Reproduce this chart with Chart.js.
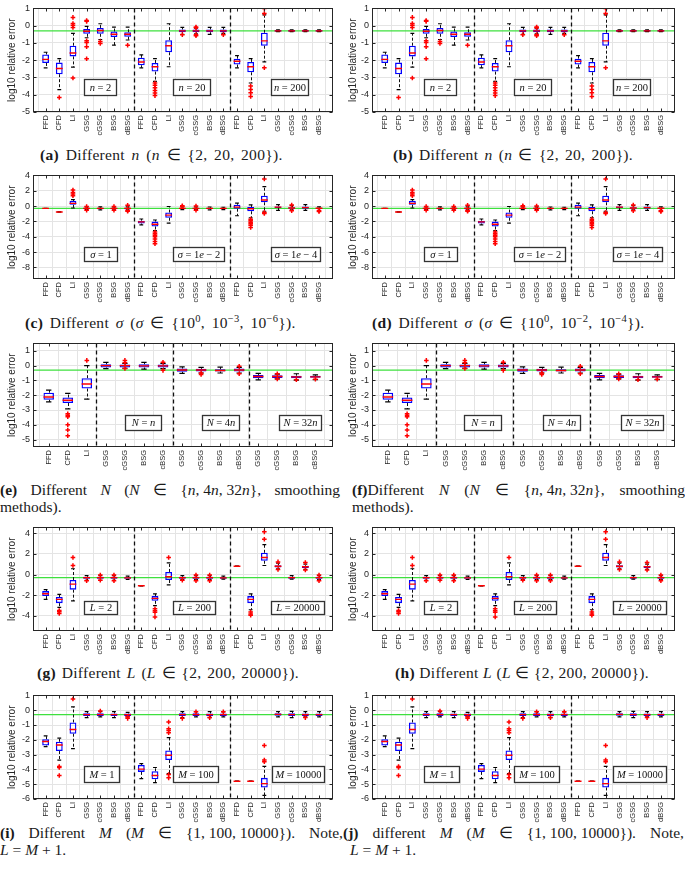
<!DOCTYPE html>
<html>
<head>
<meta charset="utf-8">
<script src="https://cdn.jsdelivr.net/npm/chart.js@4.4.1/dist/chart.umd.min.js"></script>
<style>
  body { margin: 0; background: #fff; }
  #page { position: relative; width: 685px; height: 869px; overflow: hidden; background: #fff; }
  canvas { position: absolute; }
  .cap { position: absolute; font-size: 15.5px; color: #1a1a1a; white-space: nowrap; line-height: 17px; }
  .cap b { font-weight: bold; }
  .row { display: flex; justify-content: space-between; }
  sup { font-size: 0.68em; line-height: 0; }
</style>
</head>
<body>
<div id="page">
  <!-- captions; data-w is the width the line takes in the figure -->
  <div class="cap fit" data-w="247" style="left:40px;top:146px"><b>(a)</b> Different <i>n</i> (<i>n</i> ∈ {2, 20, 200}).</div>
  <div class="cap fit" data-w="240" style="left:393px;top:146px"><b>(b)</b> Different <i>n</i> (<i>n</i> ∈ {2, 20, 200}).</div>
  <div class="cap fit" data-w="307" style="left:25px;top:314px"><b>(c)</b> Different <i>σ</i> (<i>σ</i> ∈ {10<sup>0</sup>, 10<sup>−3</sup>, 10<sup>−6</sup>}).</div>
  <div class="cap fit" data-w="293" style="left:372px;top:314px"><b>(d)</b> Different <i>σ</i> (<i>σ</i> ∈ {10<sup>0</sup>, 10<sup>−2</sup>, 10<sup>−4</sup>}).</div>
  <div class="cap row" style="left:0px;top:481px;width:340px"><span><b>(e)</b></span><span>Different</span><span><i>N</i></span><span>(<i>N</i></span><span>∈</span><span>{<i>n</i>, 4<i>n</i>, 32<i>n</i>},</span><span>smoothing</span></div>
  <div class="cap" style="left:0px;top:498px">methods).</div>
  <div class="cap row" style="left:352px;top:481px;width:333px"><span><b>(f)</b>Different</span><span><i>N</i></span><span>(<i>N</i></span><span>∈</span><span>{<i>n</i>, 4<i>n</i>, 32<i>n</i>},</span><span>smoothing</span></div>
  <div class="cap" style="left:352px;top:498px">methods).</div>
  <div class="cap fit" data-w="262" style="left:37px;top:664px"><b>(g)</b> Different <i>L</i> (<i>L</i> ∈ {2, 200, 20000}).</div>
  <div class="cap fit" data-w="254" style="left:395px;top:664px"><b>(h)</b> Different <i>L</i> (<i>L</i> ∈ {2, 200, 20000}).</div>
  <div class="cap row" style="left:0px;top:824px;width:343px"><span><b>(i)</b></span><span>Different</span><span><i>M</i></span><span>(<i>M</i></span><span>∈</span><span>{1, 100, 10000}).</span><span>Note,</span></div>
  <div class="cap" style="left:0px;top:841px"><i>L</i> = <i>M</i> + 1.</div>
  <div class="cap row" style="left:343px;top:824px;width:341px"><span><b>(j)</b></span><span>different</span><span><i>M</i></span><span>(<i>M</i></span><span>∈</span><span>{1, 100, 10000}).</span><span>Note,</span></div>
  <div class="cap" style="left:350px;top:841px"><i>L</i> = <i>M</i> + 1.</div>
</div>
<script>
// categories
const methods21 = ['FFD', 'CFD', 'LI', 'GSG', 'cGSG', 'BSG', 'dBSG',
                   'FFD', 'CFD', 'LI', 'GSG', 'cGSG', 'BSG', 'dBSG',
                   'FFD', 'CFD', 'LI', 'GSG', 'cGSG', 'BSG', 'dBSG'];
const methods15 = ['FFD', 'CFD', 'LI', 'GSG', 'cGSG', 'BSG', 'cBSG',
                   'GSG', 'cGSG', 'BSG', 'cBSG', 'GSG', 'cGSG', 'BSG', 'cBSG'];

// y tick labels
const nTicks = [-5, -4, -3, -2, -1, 0, 1];
const sTicks = [-8, -6, -4, -2, 0, 2, 4];
const NTicks = [-5, -4, -3, -2, -1, 0, 1];
const LTicks = [-4, -2, 0, 2, 4];
const MTicks = [-6, -5, -4, -3, -2, -1, 0, 1];

// reference line (log10 0.5)
const refValue = -0.3;

// panel n (a, b)
const nLow  = [-2.44, -3.70, -2.40, -0.70, -0.80, -1.13, -0.83, -2.44, -3.23, -2.38, -0.50, -0.48, -0.50, -0.45, -2.44, -3.32, -2.10, -0.34, -0.34, -0.34, -0.34];
const nQ1   = [-2.16, -2.81, -1.78, -0.47, -0.47, -0.66, -0.64, -2.29, -2.66, -1.54, -0.38, -0.38, -0.38, -0.38, -2.25, -2.70, -1.16, -0.35, -0.35, -0.35, -0.35];
const nMed  = [-1.95, -2.48, -1.58, -0.32, -0.28, -0.50, -0.50, -2.10, -2.38, -1.16, -0.30, -0.30, -0.30, -0.30, -2.06, -2.38, -0.88, -0.30, -0.30, -0.30, -0.30];
const nQ3   = [-1.67, -2.14, -1.16, -0.19, -0.13, -0.34, -0.38, -1.86, -2.16, -0.84, -0.22, -0.22, -0.22, -0.22, -1.91, -2.10, -0.41, -0.25, -0.25, -0.25, -0.25];
const nHigh = [-1.54, -1.91, -0.45, -0.04, 0.11, -0.08, -0.08, -1.69, -1.91, 0.11, -0.10, -0.15, -0.10, -0.10, -1.73, -1.91, 0.62, -0.24, -0.24, -0.24, -0.24];
const nOut  = [[], [-4.16], [0.48, 0.12, 0.02, -0.10, -3.03], [0.30, 0.25, -0.88, -0.97, -1.22, -1.92], [-0.92, -1.03], [], [-1.13],
               [], [-3.32, -3.45, -3.60, -3.75, -3.90, -4.05], [], [-0.52], [-0.08, -0.12, -0.52, -0.58], [], [-0.52],
               [], [-3.50, -3.70, -3.88, -4.10], [1.00, 0.70, -2.44], [], [], [], []];

// panel sigma (c, d)
const sLow  = [-0.31, -0.77, -0.25, -0.45, -0.50, -0.48, -0.50, -2.44, -3.20, -2.23, -0.45, -0.45, -0.50, -0.45, -1.26, -1.52, -0.67, -0.55, -0.50, -0.55, -0.55];
const sQ1   = [-0.31, -0.77, 0.17, -0.38, -0.40, -0.38, -0.40, -2.27, -2.65, -1.52, -0.36, -0.38, -0.38, -0.36, -0.34, -0.67, 0.50, -0.25, -0.35, -0.35, -0.35];
const sMed  = [-0.30, -0.76, 0.35, -0.30, -0.30, -0.30, -0.30, -2.06, -2.36, -1.18, -0.30, -0.30, -0.30, -0.30, -0.13, -0.34, 0.80, -0.13, -0.25, -0.20, -0.28];
const sQ3   = [-0.29, -0.75, 0.67, -0.22, -0.20, -0.22, -0.20, -1.90, -2.02, -0.84, -0.24, -0.22, -0.22, -0.24, 0.17, -0.13, 1.35, -0.05, -0.15, -0.05, -0.20];
const sHigh = [-0.29, -0.75, 0.84, -0.12, -0.10, -0.12, -0.10, -1.68, -1.81, -0.05, -0.12, -0.10, -0.12, -0.15, 0.38, 0.17, 2.53, 0.20, 0.05, 0.20, -0.10];
const sOut  = [[], [], [2.10, 1.77, 1.56, 1.35], [-0.05, -0.55], [], [-0.05, -0.55], [0.10, -0.60, -0.67],
               [], [-3.37, -3.60, -3.80, -4.00, -4.30, -4.60, -4.90], [], [0.05, -0.05], [0.00, -0.55], [], [],
               [], [-1.70, -1.90, -2.10, -2.30, -2.50, -2.78], [3.54, -0.84, -0.97], [], [0.15, -0.60], [], [-0.62, -0.70]];

// panel N (e, f)
const NLow  = [-2.45, -2.93, -2.27, -0.20, -0.18, -0.24, -0.20, -0.52, -0.50, -0.50, -0.50, -0.96, -0.90, -0.98, -0.95];
const NQ1   = [-2.31, -2.53, -1.55, -0.13, -0.13, -0.13, -0.13, -0.41, -0.40, -0.40, -0.40, -0.85, -0.83, -0.85, -0.82];
const NMed  = [-2.12, -2.34, -1.24, 0.00, 0.00, -0.02, -0.02, -0.30, -0.30, -0.33, -0.30, -0.74, -0.74, -0.76, -0.76];
const NQ3   = [-1.83, -2.16, -0.85, 0.09, 0.07, 0.09, 0.07, -0.20, -0.22, -0.25, -0.20, -0.63, -0.66, -0.68, -0.69];
const NHigh = [-1.66, -1.88, 0.00, 0.22, 0.15, 0.22, 0.15, -0.09, -0.12, -0.10, -0.12, -0.52, -0.58, -0.55, -0.62];
const NOut  = [[], [-3.25, -3.35, -3.45, -4.00, -4.35, -4.74], [0.35], [], [0.35, 0.20, -0.20], [], [0.22, -0.32],
               [], [-0.50, -0.60], [], [-0.05, -0.55], [], [-0.55, -0.90], [-0.95], [-0.92]];

// panel L (g, h)
const LLow  = [-2.40, -3.16, -2.54, -0.55, -0.55, -0.55, -0.48, -1.09, -3.00, -1.00, -0.50, -0.50, -0.50, -0.45, 0.79, -3.40, 0.87, 0.55, -0.45, 0.50, -0.50];
const LQ1   = [-2.08, -2.76, -1.46, -0.40, -0.40, -0.40, -0.40, -1.09, -2.54, -0.53, -0.40, -0.40, -0.40, -0.40, 0.79, -2.76, 1.33, 0.68, -0.40, 0.64, -0.40];
const LMed  = [-1.86, -2.40, -0.93, -0.30, -0.30, -0.30, -0.32, -1.08, -2.30, -0.22, -0.30, -0.30, -0.30, -0.32, 0.80, -2.40, 1.64, 0.80, -0.30, 0.75, -0.30];
const LQ3   = [-1.60, -2.17, -0.53, -0.22, -0.22, -0.22, -0.25, -1.07, -2.08, 0.25, -0.22, -0.22, -0.22, -0.25, 0.81, -2.08, 2.10, 0.90, -0.22, 0.85, -0.22];
const LHigh = [-1.46, -1.92, 0.56, -0.10, -0.10, -0.10, -0.15, -1.07, -1.86, 1.12, -0.10, -0.10, -0.10, -0.15, 0.81, -1.86, 2.88, 1.10, -0.10, 1.00, -0.10];
const LOut  = [[], [-3.47, -3.60, -3.75], [1.64, 0.87], [-0.60], [-0.05, -0.55], [-0.05, -0.60], [],
               [], [-3.30, -3.50, -3.65, -4.10], [1.64], [-0.55], [-0.05, -0.60], [-0.05, -0.60], [],
               [], [-3.62, -3.80, -3.92], [4.12, 3.41], [1.22, 0.48], [], [1.15, 0.45], [-0.05, -0.60]];

// panel M (i, j)
const MLow  = [-2.46, -3.37, -2.60, -0.50, -0.45, -0.50, -0.45, -4.63, -4.89, -4.28, -0.50, -0.45, -0.50, -0.45, -4.81, -4.81, -5.76, -0.45, -0.50, -0.45, -0.45];
const MQ1   = [-2.39, -2.76, -1.59, -0.40, -0.40, -0.40, -0.40, -4.17, -4.67, -3.37, -0.40, -0.40, -0.40, -0.40, -4.81, -4.81, -5.22, -0.38, -0.40, -0.40, -0.40];
const MMed  = [-2.11, -2.35, -1.30, -0.30, -0.30, -0.30, -0.30, -3.98, -4.41, -3.04, -0.30, -0.30, -0.30, -0.30, -4.80, -4.80, -4.96, -0.28, -0.30, -0.30, -0.30];
const MQ3   = [-1.96, -2.13, -0.83, -0.20, -0.20, -0.22, -0.22, -3.70, -4.13, -2.72, -0.20, -0.20, -0.22, -0.22, -4.79, -4.79, -4.57, -0.20, -0.20, -0.22, -0.22];
const MHigh = [-1.74, -1.89, 0.22, -0.10, -0.10, -0.10, -0.15, -3.61, -3.87, -1.85, -0.10, -0.10, -0.10, -0.12, -4.79, -4.79, -3.80, -0.10, -0.08, -0.10, -0.10];
const MOut  = [[], [-3.80, -3.87, -4.41], [0.76], [], [-0.05], [], [-0.45, -0.55],
               [], [], [-0.80, -1.26, -1.37, -1.52, -4.35, -4.57], [-0.55], [-0.10], [-0.50], [-0.10],
               [], [], [-2.39, -3.37, -3.48], [], [], [-0.50], []];

// annotation boxes (x in category units, y in data units)
const nNotes = [
  { x0: 3.82, x1: 6.18, y0: -3.1, y1: -4.0, parts: [['n', 1], [' = 2', 0]] },
  { x0: 10.34, x1: 13.05, y0: -3.1, y1: -4.0, parts: [['n', 1], [' = 20', 0]] },
  { x0: 17.5, x1: 20.2, y0: -3.1, y1: -4.0, parts: [['n', 1], [' = 200', 0]] }
];
const sNotes = [
  { x0: 3.82, x1: 6.25, y0: -5.3, y1: -7.16, parts: [['σ', 1], [' = 1', 0]] },
  { x0: 10.34, x1: 14.08, y0: -5.3, y1: -7.16, parts: [['σ', 1], [' = 1', 0], ['e', 1], [' − 2', 0]] },
  { x0: 17.5, x1: 21.1, y0: -5.3, y1: -7.16, parts: [['σ', 1], [' = 1', 0], ['e', 1], [' − 4', 0]] }
];
const NNotes = [
  { x0: 4.98, x1: 6.87, y0: -3.36, y1: -4.34, parts: [['N', 1], [' = ', 0], ['n', 1]] },
  { x0: 9.05, x1: 10.97, y0: -3.36, y1: -4.34, parts: [['N', 1], [' = 4', 0], ['n', 1]] },
  { x0: 13.1, x1: 15.3, y0: -3.36, y1: -4.34, parts: [['N', 1], [' = 32', 0], ['n', 1]] }
];
const LNotes = [
  { x0: 3.82, x1: 6.25, y0: -2.54, y1: -3.84, parts: [['L', 1], [' = 2', 0]] },
  { x0: 10.34, x1: 13.37, y0: -2.54, y1: -3.84, parts: [['L', 1], [' = 200', 0]] },
  { x0: 17.5, x1: 21.35, y0: -2.54, y1: -3.84, parts: [['L', 1], [' = 20000', 0]] }
];
const MNotes = [
  { x0: 3.82, x1: 6.39, y0: -3.8, y1: -4.83, parts: [['M', 1], [' = 1', 0]] },
  { x0: 10.34, x1: 13.6, y0: -3.8, y1: -4.83, parts: [['M', 1], [' = 100', 0]] },
  { x0: 17.53, x1: 21.35, y0: -3.8, y1: -4.83, parts: [['M', 1], [' = 10000', 0]] }
];

const panels = [
  { top: 0,   cats: methods21, low: nLow, q1: nQ1, med: nMed, q3: nQ3, high: nHigh, out: nOut, yMin: -5, yMax: 1, yTicks: nTicks, xMin: 0.6, xMax: 21.5, seps: [7.5, 14.5], notes: nNotes, boxFrac: 0.5, capFrac: 0.28 },
  { top: 167, cats: methods21, low: sLow, q1: sQ1, med: sMed, q3: sQ3, high: sHigh, out: sOut, yMin: -9.5, yMax: 4, yTicks: sTicks, xMin: 0.6, xMax: 21.5, seps: [7.5, 14.5], notes: sNotes, boxFrac: 0.5, capFrac: 0.28 },
  { top: 335, cats: methods15, low: NLow, q1: NQ1, med: NMed, q3: NQ3, high: NHigh, out: NOut, yMin: -5.5, yMax: 1.5, yTicks: NTicks, xMin: 0.7, xMax: 15.4, seps: [3.5, 7.5, 11.5], notes: NNotes, boxFrac: 0.55, capFrac: 0.28 },
  { top: 519, cats: methods21, low: LLow, q1: LQ1, med: LMed, q3: LQ3, high: LHigh, out: LOut, yMin: -5.45, yMax: 4.55, yTicks: LTicks, xMin: 0.6, xMax: 21.5, seps: [7.5, 14.5], notes: LNotes, boxFrac: 0.5, capFrac: 0.28 },
  { top: 687, cats: methods21, low: MLow, q1: MQ1, med: MMed, q3: MQ3, high: MHigh, out: MOut, yMin: -6, yMax: 1, yTicks: MTicks, xMin: 0.6, xMax: 21.5, seps: [7.5, 14.5], notes: MNotes, boxFrac: 0.5, capFrac: 0.28 }
];

const columns = [
  { left: 0, width: 340, padRight: 7, yWidth: 33, titlePad: 6 },
  { left: 340, width: 345, padRight: 10, yWidth: 32, titlePad: 7 }
];

// pick the first installed font of a list (width test against monospace)
function pickFont(list, generic) {
  const c = document.createElement('canvas').getContext('2d');
  const sample = 'Different relative error mmmwwwlliI 0123456789';
  const width = f => { c.font = '24px ' + f; return c.measureText(sample).width; };
  const base = width('monospace');
  for (const name of list) {
    if (width(`"${name}", monospace`) !== base) return `"${name}", ${generic}`;
  }
  return generic;
}
const serif = pickFont(['Liberation Serif', 'DejaVu Serif', 'Noto Serif', 'Times New Roman', 'Tinos', 'FreeSerif'], 'serif');
const sans = pickFont(['Liberation Sans', 'Arimo', 'Arial', 'DejaVu Sans', 'Noto Sans'], 'sans-serif');

const axisColor = '#262626';
const gridColor = '#e4e4e4';

// captions: stretch each single line towards the width it has in the figure
document.querySelectorAll('.cap').forEach(el => { el.style.fontFamily = serif; });
document.querySelectorAll('.cap.fit').forEach(el => {
  const target = +el.dataset.w;
  const extra = target - el.getBoundingClientRect().width;
  if (extra <= 0) return;
  const text = el.textContent;
  el.style.letterSpacing = Math.min(0.3, extra / text.length) + 'px';
  const rest = target - el.getBoundingClientRect().width;
  const spaces = (text.match(/ /g) || []).length;
  if (rest > 0 && spaces) el.style.wordSpacing = Math.min(2.5, rest / spaces) + 'px';
});

const boxPlotExtras = {
  id: 'boxPlotExtras',
  beforeDatasetsDraw(chart, args, opts) {
    const { ctx, chartArea: a, scales: { x, y } } = chart;
    const spec = opts.spec;
    ctx.save();
    // reference line
    const yr = y.getPixelForValue(refValue);
    ctx.strokeStyle = '#3fe03f';
    ctx.lineWidth = 1.3;
    ctx.beginPath(); ctx.moveTo(a.left, yr); ctx.lineTo(a.right, yr); ctx.stroke();
    // group separators
    ctx.strokeStyle = '#111';
    ctx.lineWidth = 1.3;
    ctx.setLineDash([4, 3]);
    spec.seps.forEach(v => {
      const px = Math.round(x.getPixelForValue(v)) + 0.5;
      ctx.beginPath(); ctx.moveTo(px, a.top); ctx.lineTo(px, a.bottom); ctx.stroke();
    });
    // whisker stems
    ctx.lineWidth = 1;
    ctx.setLineDash([3, 2]);
    spec.cats.forEach((c, i) => {
      const px = Math.round(x.getPixelForValue(i + 1)) + 0.5;
      ctx.beginPath();
      ctx.moveTo(px, y.getPixelForValue(spec.q3[i])); ctx.lineTo(px, y.getPixelForValue(spec.high[i]));
      ctx.moveTo(px, y.getPixelForValue(spec.q1[i])); ctx.lineTo(px, y.getPixelForValue(spec.low[i]));
      ctx.stroke();
    });
    ctx.restore();
  },
  afterDatasetsDraw(chart, args, opts) {
    const { ctx, scales: { x, y } } = chart;
    ctx.save();
    opts.spec.notes.forEach(n => {
      const x0 = Math.round(x.getPixelForValue(n.x0)) + 0.5, x1 = Math.round(x.getPixelForValue(n.x1)) + 0.5;
      const y0 = Math.round(y.getPixelForValue(n.y0)) + 0.5, y1 = Math.round(y.getPixelForValue(n.y1)) + 0.5;
      ctx.fillStyle = '#fff';
      ctx.fillRect(x0, y0, x1 - x0, y1 - y0);
      ctx.strokeStyle = '#333';
      ctx.lineWidth = 1.3;
      ctx.strokeRect(x0, y0, x1 - x0, y1 - y0);
      let total = 0;
      const fontFor = it => (it ? 'italic ' : '') + '10.5px ' + serif;
      n.parts.forEach(p => { ctx.font = fontFor(p[1]); total += ctx.measureText(p[0]).width; });
      let cx = (x0 + x1) / 2 - total / 2;
      const cy = (y0 + y1) / 2 + 0.5;
      ctx.fillStyle = '#111';
      ctx.textBaseline = 'middle';
      ctx.textAlign = 'left';
      n.parts.forEach(p => { ctx.font = fontFor(p[1]); ctx.fillText(p[0], cx, cy); cx += ctx.measureText(p[0]).width; });
    });
    ctx.restore();
  },
  afterDraw(chart) {
    const { ctx, chartArea: a, scales: { x, y } } = chart;
    ctx.save();
    ctx.strokeStyle = axisColor;
    ctx.lineWidth = 1;
    const l = Math.round(a.left) + 0.5, r = Math.round(a.right) - 0.5;
    const t = Math.round(a.top) + 0.5, b = Math.round(a.bottom) - 0.5;
    ctx.strokeRect(l, t, r - l, b - t);
    ctx.beginPath();
    x.ticks.forEach(tk => {
      const px = Math.round(x.getPixelForValue(tk.value)) + 0.5;
      ctx.moveTo(px, b); ctx.lineTo(px, b - 3);
      ctx.moveTo(px, t); ctx.lineTo(px, t + 3);
    });
    y.ticks.forEach(tk => {
      const py = Math.round(y.getPixelForValue(tk.value)) + 0.5;
      ctx.moveTo(l, py); ctx.lineTo(l + 3, py);
      ctx.moveTo(r, py); ctx.lineTo(r - 3, py);
    });
    ctx.stroke();
    ctx.restore();
  }
};

const page = document.getElementById('page');

function buildChart(spec, col) {
  const canvas = document.createElement('canvas');
  canvas.width = col.width;
  canvas.height = 137;
  canvas.style.left = col.left + 'px';
  canvas.style.top = spec.top + 'px';
  page.appendChild(canvas);

  const idx = spec.cats.map((c, i) => i + 1);
  const boxes = idx.map((v, i) => ({ x: v, y: [spec.q1[i], spec.q3[i]] }));
  const caps = idx.flatMap((v, i) => [{ x: v, y: spec.low[i] }, { x: v, y: spec.high[i] }]);
  const meds = idx.map((v, i) => ({ x: v, y: spec.med[i] }));
  const outs = idx.flatMap((v, i) => spec.out[i].map(o => ({ x: v, y: o })));
  const unit = c => {
    const s = c.chart.scales.x;
    return Math.abs(s.getPixelForValue(2) - s.getPixelForValue(1));
  };

  new Chart(canvas, {
    type: 'bar',
    data: {
      datasets: [
        { type: 'bar', data: boxes, backgroundColor: 'rgba(255,255,255,0)', borderColor: '#0000ff', borderWidth: 1.3,
          borderSkipped: false, barPercentage: spec.boxFrac, categoryPercentage: 1, order: 4 },
        { type: 'scatter', data: caps, pointStyle: 'line', pointRadius: c => unit(c) * spec.capFrac / 2,
          pointBorderColor: '#000', pointBorderWidth: 1.2, order: 3 },
        { type: 'scatter', data: meds, pointStyle: 'line', pointRadius: c => unit(c) * spec.boxFrac / 2,
          pointBorderColor: '#ff0000', pointBorderWidth: 1.4, order: 2 },
        { type: 'scatter', data: outs, pointStyle: 'cross', pointRadius: 2.3,
          pointBorderColor: '#ff0000', pointBorderWidth: 1.5, order: 1 }
      ]
    },
    options: {
      responsive: false,
      animation: false,
      events: [],
      layout: { padding: { left: 0, right: col.padRight, top: 5, bottom: 0 } },
      plugins: {
        legend: { display: false },
        tooltip: { enabled: false },
        boxPlotExtras: { spec: spec }
      },
      scales: {
        x: {
          type: 'linear',
          bounds: 'data',
          min: spec.xMin,
          max: spec.xMax,
          afterBuildTicks: s => { s.ticks = idx.map(v => ({ value: v })); },
          afterFit: s => { s.height = 25; },
          ticks: {
            autoSkip: false,
            minRotation: 90,
            maxRotation: 90,
            padding: 3,
            color: axisColor,
            font: { family: sans, size: 7.5 },
            callback: v => spec.cats[v - 1]
          },
          grid: { color: gridColor, drawTicks: false },
          border: { display: false }
        },
        y: {
          type: 'linear',
          bounds: 'data',
          min: spec.yMin,
          max: spec.yMax,
          afterBuildTicks: s => { s.ticks = spec.yTicks.map(v => ({ value: v })); },
          afterFit: s => { s.width = col.yWidth; },
          ticks: { padding: 3, color: axisColor, font: { family: sans, size: 9 }, callback: v => String(v) },
          grid: { color: gridColor, drawTicks: false },
          border: { display: false },
          title: { display: true, text: 'log10 relative error', color: axisColor,
                   font: { family: sans, size: 10 }, padding: { top: col.titlePad, bottom: 0 } }
        }
      }
    },
    plugins: [boxPlotExtras]
  });
}

panels.forEach(spec => columns.forEach(col => buildChart(spec, col)));
</script>
</body>
</html>
